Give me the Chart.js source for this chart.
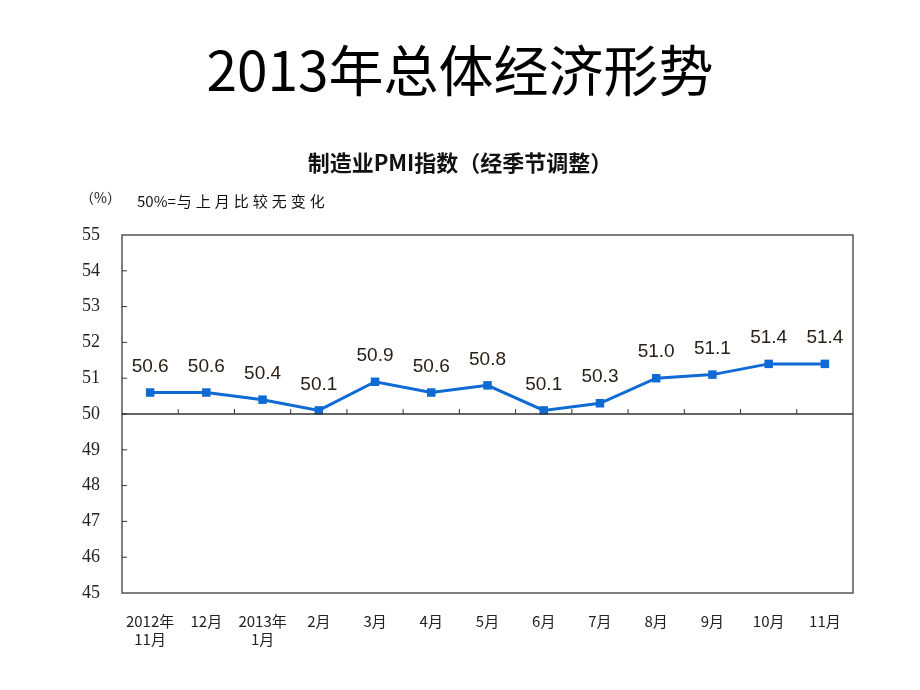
<!DOCTYPE html>
<html><head><meta charset="utf-8">
<script src="https://cdn.jsdelivr.net/npm/chart.js@4/dist/chart.umd.min.js"></script>
<style>html,body{margin:0;padding:0;background:#fff}#wrap{width:920px;height:690px;position:relative}</style>
</head><body><div id="wrap"><canvas id="c" width="920" height="690"></canvas></div>
<script>
const categories = [['2012年','11月'],'12月',['2013年','1月'],'2月','3月','4月','5月','6月','7月','8月','9月','10月','11月'];
const pmiValues = [50.6, 50.6, 50.4, 50.1, 50.9, 50.6, 50.8, 50.1, 50.3, 51.0, 51.1, 51.4, 51.4];
const pageTitle = '2013年总体经济形势';
const chartTitle = '制造业PMI指数（经季节调整）';
const unitLabel = '（%）';
const notePrefix = '50%=';
const noteLabel = '与上月比较无变化';
const yMin = 45, yMax = 55, baseLine = 50;

const decor = {
  id: 'decor',
  afterDatasetsDraw(chart) {
    const ctx = chart.ctx, a = chart.chartArea;
    const xs = chart.scales.x, ys = chart.scales.y;
    ctx.save();
    ctx.strokeStyle = '#555'; ctx.lineWidth = 1.5;
    ctx.strokeRect(a.left, a.top, a.right - a.left, a.bottom - a.top);
    const y50 = ys.getPixelForValue(baseLine);
    ctx.strokeStyle = '#333'; ctx.lineWidth = 1.5;
    ctx.beginPath(); ctx.moveTo(a.left, y50); ctx.lineTo(a.right, y50); ctx.stroke();
    ctx.lineWidth = 1;
    for (let i = 0; i < categories.length - 1; i++) {
      const xb = (xs.getPixelForValue(i) + xs.getPixelForValue(i + 1)) / 2;
      ctx.beginPath(); ctx.moveTo(xb, y50); ctx.lineTo(xb, y50 - 5); ctx.stroke();
    }
    for (let v = yMin + 1; v < yMax; v++) {
      const yy = ys.getPixelForValue(v);
      ctx.beginPath(); ctx.moveTo(a.left, yy); ctx.lineTo(a.left + 5, yy); ctx.stroke();
    }
    ctx.fillStyle = '#2a2018';
    ctx.font = '19px "Liberation Sans", Arial, sans-serif';
    ctx.textAlign = 'center'; ctx.textBaseline = 'middle';
    const meta = chart.getDatasetMeta(0);
    meta.data.forEach((pt, i) => {
      ctx.fillText(pmiValues[i].toFixed(1), pt.x, pt.y - 26);
    });
    ctx.fillStyle = '#000';
    ctx.font = '55px "Noto Sans CJK SC", sans-serif';
    ctx.fillText(pageTitle, 460, 70);
    ctx.fillStyle = '#111';
    ctx.font = 'bold 22px "Noto Sans CJK SC", sans-serif';
    ctx.fillText(chartTitle, 460, 163);
    ctx.font = '14px "Noto Sans CJK SC", sans-serif';
    ctx.textAlign = 'left';
    ctx.fillText(unitLabel, 80, 198);
    ctx.font = '15px "Noto Sans CJK SC", sans-serif';
    ctx.fillText(notePrefix, 137, 201);
    const w = ctx.measureText(notePrefix).width;
    ctx.letterSpacing = '4px';
    ctx.fillText(noteLabel, 137 + w + 1, 201);
    ctx.letterSpacing = '0px';
    ctx.restore();
  }
};

new Chart(document.getElementById('c'), {
  type: 'line',
  data: {
    labels: categories,
    datasets: [{
      data: pmiValues,
      borderColor: '#0f6ad4',
      backgroundColor: '#0f6ad4',
      borderWidth: 3,
      pointStyle: 'rect',
      pointRadius: 6,
      pointBorderWidth: 0,
      tension: 0
    }]
  },
  options: {
    responsive: false,
    animation: false,
    layout: { padding: { top: 235, right: 67, left: 0, bottom: 0 } },
    plugins: { legend: { display: false }, tooltip: { enabled: false }, title: { display: false } },
    scales: {
      x: {
        offset: true,
        grid: { display: false },
        border: { display: false },
        ticks: { color: '#222', font: { family: '"Noto Sans CJK SC", sans-serif', size: 15 }, padding: 11, maxRotation: 0, autoSkip: false },
        afterFit: s => { s.height = 97; }
      },
      y: {
        min: yMin, max: yMax,
        grid: { display: false },
        border: { display: false },
        ticks: { stepSize: 1, color: '#222', font: { family: '"Liberation Serif", "DejaVu Serif", serif', size: 18 }, padding: 14 },
        afterFit: s => { s.width = 122; }
      }
    }
  },
  plugins: [decor]
});
</script></body></html>
